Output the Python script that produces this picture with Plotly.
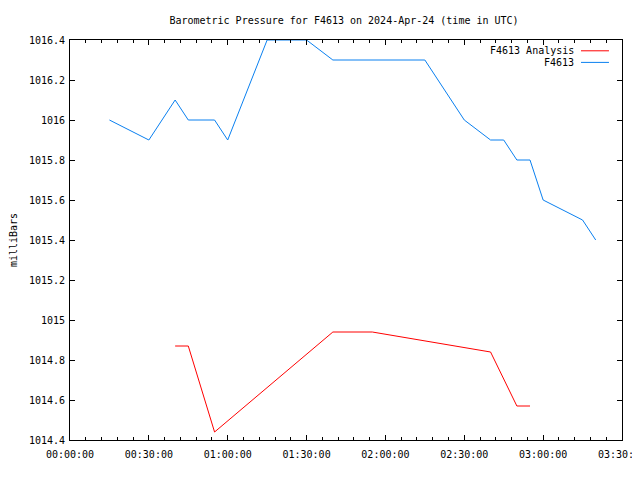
import plotly.graph_objects as go

DAY = "2024-04-24"

analysis_name = "F4613 Analysis"
analysis_times = ["00:40", "00:45", "00:55", "01:40", "01:55", "02:40", "02:50", "02:55"]
analysis_values = [1014.87, 1014.87, 1014.44, 1014.94, 1014.94, 1014.84, 1014.57, 1014.57]

obs_name = "F4613"
obs_times = ["00:15", "00:30", "00:40", "00:45", "00:55", "01:00", "01:15", "01:30", "01:40",
             "02:15", "02:30", "02:40", "02:45", "02:50", "02:55", "03:00", "03:15", "03:20"]
obs_values = [1016.0, 1015.9, 1016.1, 1016.0, 1016.0, 1015.9, 1016.4, 1016.4, 1016.3,
              1016.3, 1016.0, 1015.9, 1015.9, 1015.8, 1015.8, 1015.6, 1015.5, 1015.4]

y_tickvals = [1014.4, 1014.6, 1014.8, 1015.0, 1015.2, 1015.4, 1015.6, 1015.8, 1016.0, 1016.2, 1016.4]
y_ticktext = ["1014.4", "1014.6", "1014.8", "1015", "1015.2", "1015.4", "1015.6", "1015.8", "1016", "1016.2", "1016.4"]

RED = "#ff0000"
BLUE = "#0a80f0"
FONT = "DejaVu Sans Mono"


def ts(t):
    return f"{DAY} {t}:00"


fig = go.Figure()
fig.add_trace(go.Scatter(x=[ts(t) for t in analysis_times], y=analysis_values, mode="lines",
                         line=dict(color=RED, width=1), name=analysis_name, showlegend=False))
fig.add_trace(go.Scatter(x=[ts(t) for t in obs_times], y=obs_values, mode="lines",
                         line=dict(color=BLUE, width=1), name=obs_name, showlegend=False))

# gnuplot-style legend: text on the left, line sample on the right
legend_rows = [(analysis_name, RED, 0.973), (obs_name, BLUE, 0.944)]
for name, color, yy in legend_rows:
    fig.add_annotation(x=0.916, y=yy, xref="paper", yref="paper", text=name, showarrow=False,
                       xanchor="right", yanchor="middle", font=dict(family=FONT, size=10, color="black"))
    fig.add_shape(type="line", xref="paper", yref="paper", x0=0.9257, x1=0.9764, y0=yy, y1=yy,
                  line=dict(color=color, width=1))

# the page body adds an 8px offset, so margins are shifted to compensate
fig.update_layout(
    width=640, height=480,
    margin=dict(l=62, r=26, t=32, b=48, autoexpand=False),
    paper_bgcolor="white", plot_bgcolor="white",
    font=dict(family=FONT, size=10, color="black"),
    title=dict(text="Barometric Pressure for F4613 on 2024-Apr-24 (time in UTC)",
               x=0.525, xanchor="center", y=1 - 12 / 480, yanchor="middle",
               font=dict(family=FONT, size=10, color="black")),
    showlegend=False,
)
fig.update_xaxes(
    type="date", range=[ts("00:00"), ts("03:30")], automargin=False,
    dtick=30 * 60 * 1000, tick0=ts("00:00"), tickformat="%H:%M:%S",
    ticks="inside", ticklen=5, tickcolor="black", tickwidth=1,
    ticklabelstandoff=5,
    minor=dict(dtick=6 * 60 * 1000, tick0=ts("00:00"), ticks="inside", ticklen=3, tickcolor="black", tickwidth=1),
    showline=True, linecolor="black", linewidth=1, mirror="ticks",
    showgrid=False, zeroline=False,
)
fig.update_yaxes(
    range=[1014.4, 1016.4], tickvals=y_tickvals, ticktext=y_ticktext, automargin=False,
    ticks="inside", ticklen=5, tickcolor="black", tickwidth=1,
    ticklabelstandoff=2,
    showline=True, linecolor="black", linewidth=1, mirror="ticks",
    showgrid=False, zeroline=False,
    title=dict(text="milliBars", standoff=14, font=dict(family=FONT, size=10)),
)

fig.write_html("out.html")
